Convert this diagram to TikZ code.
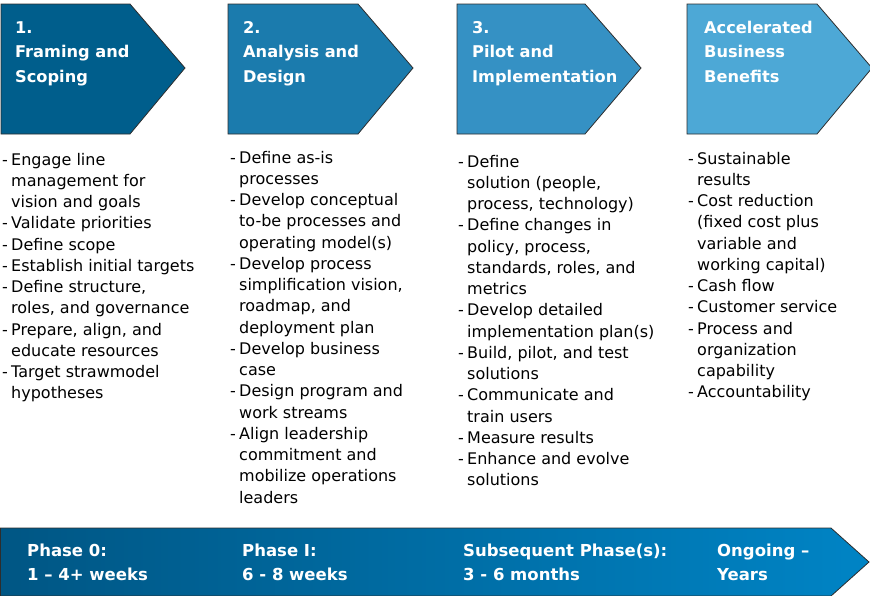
\documentclass[tikz,border=0pt]{standalone}
\usepackage{fontspec}
\setmainfont{DejaVu Sans}
\definecolor{cA}{RGB}{0,94,140}
\definecolor{cB}{RGB}{27,123,173}
\definecolor{cC}{RGB}{53,145,196}
\definecolor{cD}{RGB}{77,168,214}
\definecolor{barL}{RGB}{0,86,132}
\definecolor{barR}{RGB}{0,132,197}
\definecolor{edge}{RGB}{45,45,45}
\newcommand\dsh{\makebox[9pt][l]{-}}
\newcommand\cnt{\hspace*{9pt}}
\newcommand\colbox[1]{\parbox[t]{230pt}{\raggedright #1}}
\tikzset{
  chev/.style={draw=edge, line width=0.8pt},
  head/.style={anchor=base west, inner sep=0pt, text=white, font=\bfseries\fontsize{16.2}{24.5}\selectfont},
  body/.style={anchor=base west, inner sep=0pt, text=black, font=\fontsize{16}{21.25}\selectfont},
  bartext/.style={anchor=base west, inner sep=0pt, text=white, font=\bfseries\fontsize{16.5}{24}\selectfont},
}
\begin{document}
\begin{tikzpicture}[x=1pt,y=-1pt]
\useasboundingbox (0,0) rectangle (870,595);
% chevrons
\path[chev, fill=cA] (1,4) -- (130,4) -- (185,68) -- (130,134) -- (1,134) -- cycle;
\path[chev, fill=cB] (228,4) -- (358,4) -- (413,68) -- (358,134) -- (228,134) -- cycle;
\path[chev, fill=cC] (457,4) -- (585,4) -- (641,68) -- (585,134) -- (457,134) -- cycle;
\path[chev, fill=cD] (687,4) -- (817,4) -- (872,68) -- (817,134) -- (687,134) -- cycle;
% headings
\node[head] (h1) at (15,33) {\colbox{1.\\Framing and\\Scoping}};
\node[head] (h2) at (243,33) {\colbox{2.\\Analysis and\\Design}};
\node[head] (h3) at (472,33) {\colbox{3.\\Pilot and\\Implementation}};
\node[head] (h4) at (704,33) {\colbox{Accelerated\\Business\\Benefits}};
% columns
\node[body] (c1) at (2,165) {\colbox{%
\dsh Engage line\\
\cnt management for\\
\cnt vision and goals\\
\dsh Validate priorities\\
\dsh Define scope\\
\dsh Establish initial targets\\
\dsh Define structure,\\
\cnt roles, and governance\\
\dsh Prepare, align, and\\
\cnt educate resources\\
\dsh Target strawmodel\\
\cnt hypotheses}};
\node[body] (c2) at (230,163) {\colbox{%
\dsh Define as-is\\
\cnt processes\\
\dsh Develop conceptual\\
\cnt to-be processes and\\
\cnt operating model(s)\\
\dsh Develop process\\
\cnt simplification vision,\\
\cnt roadmap, and\\
\cnt deployment plan\\
\dsh Develop business\\
\cnt case\\
\dsh Design program and\\
\cnt work streams\\
\dsh Align leadership\\
\cnt commitment and\\
\cnt mobilize operations\\
\cnt leaders}};
\node[body] (c3) at (458,167) {\colbox{%
\dsh Define\\
\cnt solution (people,\\
\cnt process, technology)\\
\dsh Define changes in\\
\cnt policy, process,\\
\cnt standards, roles, and\\
\cnt metrics\\
\dsh Develop detailed\\
\cnt implementation plan(s)\\
\dsh Build, pilot, and test\\
\cnt solutions\\
\dsh Communicate and\\
\cnt train users\\
\dsh Measure results\\
\dsh Enhance and evolve\\
\cnt solutions}};
\node[body] (c4) at (688,164) {\colbox{%
\dsh Sustainable\\
\cnt results\\
\dsh Cost reduction\\
\cnt (fixed cost plus\\
\cnt variable and\\
\cnt working capital)\\
\dsh Cash flow\\
\dsh Customer service\\
\dsh Process and\\
\cnt organization\\
\cnt capability\\
\dsh Accountability}};
% bottom bar
\path[left color=barL, right color=barR, draw=edge, line width=0.8pt]
  (0.5,528) -- (831,528) -- (869,562) -- (831,596) -- (0.5,596) -- cycle;
\node[bartext] (p0) at (27,556) {\colbox{Phase 0:\\1 – 4+ weeks}};
\node[bartext] (p1) at (242,556) {\colbox{Phase I:\\6 - 8 weeks}};
\node[bartext] (p2) at (463,556) {\colbox{Subsequent Phase(s):\\3 - 6 months}};
\node[bartext] (p3) at (717,556) {\colbox{Ongoing –\\Years}};
\end{tikzpicture}
\end{document}
